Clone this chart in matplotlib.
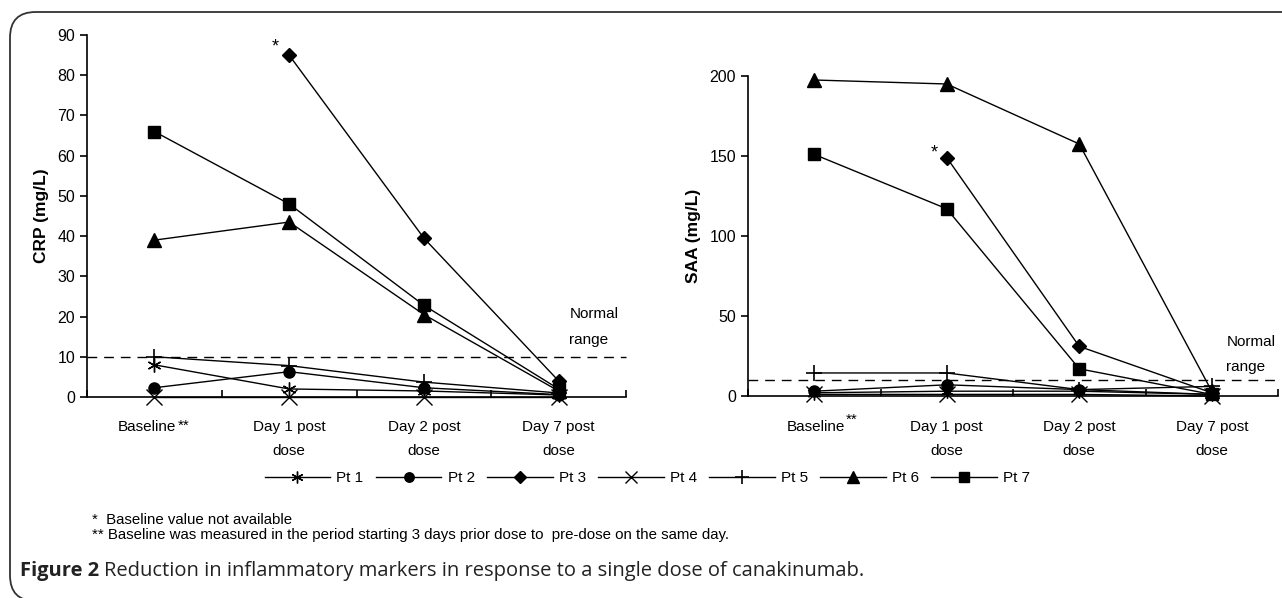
import numpy as np
import matplotlib
matplotlib.use('Agg')
import matplotlib.pyplot as plt
from matplotlib.patches import FancyBboxPatch

plt.rcParams['font.family'] = ['Liberation Sans', 'DejaVu Sans']

# Data
timepoints = ['Baseline', 'Day 1 post\ndose', 'Day 2 post\ndose', 'Day 7 post\ndose']
patients = ['Pt 1', 'Pt 2', 'Pt 3', 'Pt 4', 'Pt 5', 'Pt 6', 'Pt 7']

crp_pt1 = [8.0, 2.0, 1.5, 0.5]
crp_pt2 = [2.3, 6.3, 2.3, 0.6]
crp_pt3 = [np.nan, 85.0, 39.5, 4.0]
crp_pt4 = [0.0, 0.0, 0.0, 0.0]
crp_pt5 = [10.0, 7.8, 3.7, 1.0]
crp_pt6 = [39.0, 43.5, 20.5, 1.5]
crp_pt7 = [66.0, 48.0, 22.8, 2.0]

saa_pt1 = [2.0, 3.0, 3.0, 1.0]
saa_pt2 = [3.0, 7.0, 4.0, 1.0]
saa_pt3 = [np.nan, 149.0, 31.0, 2.0]
saa_pt4 = [1.0, 1.0, 1.0, 0.0]
saa_pt5 = [14.4, 14.4, 4.0, 6.0]
saa_pt6 = [197.5, 195.0, 157.5, 3.0]
saa_pt7 = [151.0, 117.0, 17.0, 1.0]

normal_crp = 10
normal_saa = 10

crp_series = [crp_pt1, crp_pt2, crp_pt3, crp_pt4, crp_pt5, crp_pt6, crp_pt7]
saa_series = [saa_pt1, saa_pt2, saa_pt3, saa_pt4, saa_pt5, saa_pt6, saa_pt7]

markers = [(6, 2, 0), 'o', 'D', 'x', '+', '^', 's']
msizes = [10, 8, 7, 11, 12, 10, 8]
mews = [1.0, 1.0, 1.0, 1.0, 1.2, 1.0, 1.0]

W, H = 1282, 598
fig = plt.figure(figsize=(W / 100, H / 100), dpi=100)

# rounded frame (top + left visible, bottom/right run off the page)
frame = FancyBboxPatch((10 / W, -3 / H), 2.0, (H - 12 + 3) / H,
                       boxstyle='round,pad=0.0,rounding_size=0.02',
                       transform=fig.transFigure, fill=False,
                       edgecolor='#333333', linewidth=1.3, clip_on=False,
                       mutation_aspect=W / H)
fig.patches.append(frame)


def make_panel(rect, series, ylim, yticks, ylabel, normal, star_xy, normal_xy,
               base_end, lab_y, star2_dy):
    ax = fig.add_axes(rect)
    x = np.arange(len(timepoints))
    lines = []
    for vals, m, ms, mew in zip(series, markers, msizes, mews):
        ln, = ax.plot(x, vals, color='black', lw=1.0, marker=m, markersize=ms,
                      markeredgewidth=mew, markerfacecolor='black',
                      markeredgecolor='black', clip_on=False, zorder=3)
        lines.append(ln)
    ax.axhline(normal, color='black', lw=1.0, ls=(0, (7, 5)), zorder=1, clip_on=False)
    ax.set_xlim(-0.5, 3.5)
    ax.set_ylim(*ylim)
    ax.set_yticks(yticks)
    ax.set_xticks(np.arange(-0.5, 3.6, 1.0))
    ax.set_xticklabels([])
    tr = ax.get_xaxis_transform()
    for i, lab in enumerate(timepoints[1:], start=1):
        ax.text(i, lab_y, lab, transform=tr, ha='center',
                va='top', fontsize=11, linespacing=1.85)
    ax.text(base_end, lab_y, timepoints[0], transform=tr, ha='right',
            va='top', fontsize=11)
    ax.text(base_end + 0.01, lab_y + star2_dy, '**', transform=tr, ha='left',
            va='top', fontsize=11)
    ax.spines['top'].set_visible(False)
    ax.spines['right'].set_visible(False)
    ax.spines['left'].set_linewidth(1.2)
    ax.spines['bottom'].set_linewidth(1.2)
    ax.tick_params(axis='y', direction='out', length=5, width=1.2, labelsize=11.5)
    ax.tick_params(axis='x', direction='in', length=5, width=1.2)
    ax.set_ylabel(ylabel, fontsize=12.5, fontweight='bold', labelpad=6)
    ax.text(star_xy[0], star_xy[1], '*', ha='right', va='center', fontsize=13)
    ax.text(normal_xy[0], normal_xy[1], 'Normal\n\nrange', ha='left', va='center',
            fontsize=11, linespacing=0.9)
    return ax, lines


ax1, lines = make_panel([87 / W, 1 - 397 / H, 539 / W, 362 / H], crp_series,
                        (0, 90), np.arange(0, 91, 10), 'CRP (mg/L)', normal_crp,
                        (0.92, 87), (3.08, 17.4), 0.165, -0.064, 0.004)

ax2, _ = make_panel([748 / W, 1 - 396 / H, 530 / W, 320 / H], saa_series,
                    (0, 200), np.arange(0, 201, 50), 'SAA (mg/L)', normal_saa,
                    (0.93, 152), (3.11, 26), 0.23, -0.076, 0.022)

leg = fig.legend(lines, patients, loc='center', bbox_to_anchor=(0.505, 1 - 478 / H),
                 ncol=7, frameon=False, fontsize=11, handlelength=4.3,
                 columnspacing=0.8, handletextpad=0.4, markerscale=0.85)

foot_family = ['Liberation Sans Narrow', 'Liberation Sans']
fig.text(92 / W, 1 - 520 / H, '*  Baseline value not available', fontsize=10.8,
         va='center', family=foot_family)
fig.text(92 / W, 1 - 535 / H,
         '** Baseline was measured in the period starting 3 days prior dose to  pre-dose on the same day.',
         fontsize=10.8, va='center', family=foot_family)

cap1 = fig.text(20 / W, 1 - 571 / H, 'Figure 2', fontsize=14.5, fontweight='bold',
                va='center', family=['Open Sans'], color='#222222')
fig.canvas.draw()
bb = cap1.get_window_extent()
fig.text((bb.x1 + 5) / W, 1 - 571 / H,
         'Reduction in inflammatory markers in response to a single dose of canakinumab.',
         fontsize=14.5, va='center', family=['Open Sans'], color='#222222')

fig.savefig('out.png', dpi=100)
